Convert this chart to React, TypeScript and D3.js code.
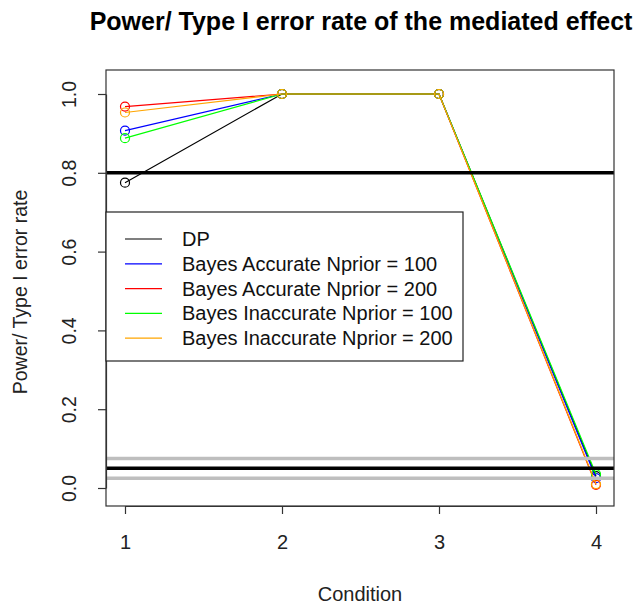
import { useRef, useEffect } from 'react';
import * as d3 from 'd3';

const conditions = [1, 2, 3, 4];
const seriesNames = [
  'DP',
  'Bayes Accurate Nprior = 100',
  'Bayes Accurate Nprior = 200',
  'Bayes Inaccurate Nprior = 100',
  'Bayes Inaccurate Nprior = 200',
];
const seriesColors = ['black', 'blue', 'red', '#00ff00', 'orange'];
const dpValues = [0.775, 1.0, 1.0, 0.03];
const accurate100 = [0.907, 1.0, 1.0, 0.025];
const accurate200 = [0.968, 1.0, 1.0, 0.008];
const inaccurate100 = [0.888, 1.0, 1.0, 0.035];
const inaccurate200 = [0.953, 1.0, 1.0, 0.01];
const yTicks = [0, 0.2, 0.4, 0.6, 0.8, 1.0];
const blackRefs = [0.8, 0.05];
const greyRefs = [0.075, 0.025];

const App = () => {
  const svgRef = useRef<SVGSVGElement>(null);

  useEffect(() => {
    if (!svgRef.current) return;
    const width = 639;
    const height = 607;
    const box = { left: 106, right: 614, top: 70, bottom: 506 };
    const font = 'Liberation Sans, Arial, sans-serif';

    const svg = d3.select(svgRef.current);
    svg.selectAll('*').remove();

    const x = d3.scaleLinear().domain([1, 4]).range([125, 596]);
    const y = d3.scaleLinear().domain([0, 1]).range([488, 94]);

    const allSeries = [dpValues, accurate100, accurate200, inaccurate100, inaccurate200];

    svg.append('defs').append('clipPath').attr('id', 'plotclip')
      .append('rect')
      .attr('x', box.left).attr('y', box.top)
      .attr('width', box.right - box.left).attr('height', box.bottom - box.top);

    const plot = svg.append('g').attr('clip-path', 'url(#plotclip)');

    const line = d3.line<number>()
      .x((_, i) => x(conditions[i]))
      .y(d => y(d));

    allSeries.forEach((vals, s) => {
      plot.append('path')
        .attr('d', line(vals))
        .attr('fill', 'none')
        .attr('stroke', seriesColors[s])
        .attr('stroke-width', 1.2);
      plot.selectAll(null)
        .data(vals)
        .join('circle')
        .attr('cx', (_, i) => x(conditions[i]))
        .attr('cy', d => y(d))
        .attr('r', 4.5)
        .attr('fill', 'none')
        .attr('stroke', seriesColors[s])
        .attr('stroke-width', 1.2);
    });

    plot.selectAll('.grey')
      .data(greyRefs)
      .join('line')
      .attr('x1', box.left).attr('x2', box.right)
      .attr('y1', d => y(d)).attr('y2', d => y(d))
      .attr('stroke', '#bebebe')
      .attr('stroke-width', 3.5);

    plot.selectAll('.black')
      .data(blackRefs)
      .join('line')
      .attr('x1', box.left).attr('x2', box.right)
      .attr('y1', d => y(d)).attr('y2', d => y(d))
      .attr('stroke', 'black')
      .attr('stroke-width', 3.5);

    // box
    svg.append('rect')
      .attr('x', box.left).attr('y', box.top)
      .attr('width', box.right - box.left).attr('height', box.bottom - box.top)
      .attr('fill', 'none').attr('stroke', '#333').attr('stroke-width', 1.2);

    // x axis
    const xAxis = svg.append('g')
      .attr('transform', `translate(0,${box.bottom})`)
      .call(d3.axisBottom(x).tickValues(conditions).tickFormat(d3.format('d')).tickSize(8).tickSizeOuter(0));
    xAxis.select('.domain').attr('stroke', '#333').attr('stroke-width', 1.2);
    xAxis.selectAll('line').attr('stroke', '#333').attr('stroke-width', 1.2);
    xAxis.selectAll('text')
      .attr('y', 43).attr('dy', null)
      .attr('font-family', font).attr('font-size', 20).attr('fill', '#222');

    // y axis
    const yAxis = svg.append('g')
      .attr('transform', `translate(${box.left},0)`)
      .call(d3.axisLeft(y).tickValues(yTicks).tickFormat(d3.format('.1f')).tickSize(8).tickSizeOuter(0));
    yAxis.select('.domain').attr('stroke', '#333').attr('stroke-width', 1.2);
    yAxis.selectAll('line').attr('stroke', '#333').attr('stroke-width', 1.2);
    yAxis.selectAll('text')
      .attr('font-family', font).attr('font-size', 19.5).attr('fill', '#222')
      .attr('x', null).attr('dy', null)
      .attr('text-anchor', 'middle')
      .attr('transform', 'translate(-37,0) rotate(-90)')
      .attr('dominant-baseline', 'central');

    // titles
    svg.append('text')
      .attr('x', 361).attr('y', 30)
      .attr('text-anchor', 'middle')
      .attr('font-family', font).attr('font-size', 25).attr('font-weight', 'bold')
      .text('Power/ Type I error rate of the mediated effect');

    svg.append('text')
      .attr('x', 360).attr('y', 601)
      .attr('text-anchor', 'middle')
      .attr('font-family', font).attr('font-size', 20).attr('fill', '#222')
      .text('Condition');

    svg.append('text')
      .attr('transform', `translate(27,${(box.top + box.bottom) / 2 + 4}) rotate(-90)`)
      .attr('text-anchor', 'middle')
      .attr('font-family', font).attr('font-size', 19.5).attr('fill', '#222')
      .text('Power/ Type I error rate');

    // legend
    const lg = svg.append('g');
    lg.append('rect')
      .attr('x', 106).attr('y', 212).attr('width', 357).attr('height', 149)
      .attr('fill', 'white').attr('stroke', '#222').attr('stroke-width', 1.2);
    seriesNames.forEach((name, i) => {
      const yy = 239 + i * 24.8;
      lg.append('line')
        .attr('x1', 125).attr('x2', 162).attr('y1', yy).attr('y2', yy)
        .attr('stroke', seriesColors[i]).attr('stroke-width', 1.2);
      lg.append('text')
        .attr('x', 182).attr('y', yy)
        .attr('dominant-baseline', 'central')
        .attr('font-family', font).attr('font-size', 20).attr('fill', '#111')
        .text(name);
    });

    svg.attr('width', width).attr('height', height);
  }, []);

  return (
    <svg
      ref={svgRef}
      width={639}
      height={607}
      style={{ position: 'absolute', left: 0, top: 0, background: 'white' }}
    />
  );
};

export default App;
